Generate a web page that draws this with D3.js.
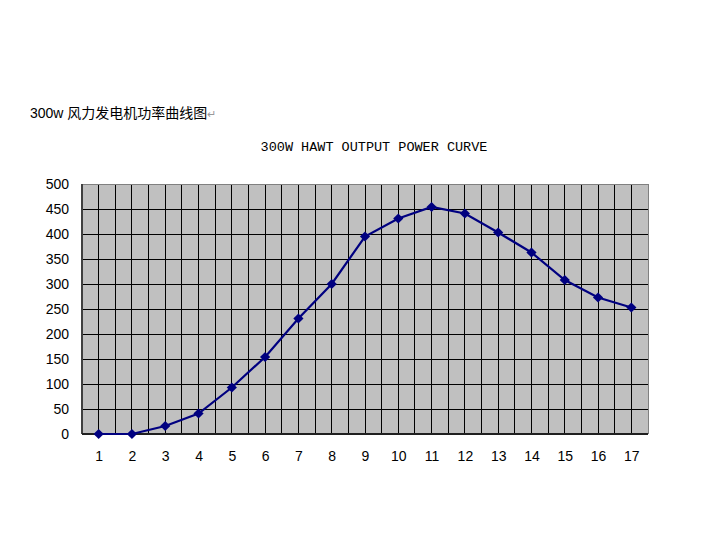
<!DOCTYPE html>
<html>
<head>
<meta charset="utf-8">
<script src="https://cdn.jsdelivr.net/npm/d3@7"></script>
<style>
  body { margin: 0; background: #fff; }
</style>
</head>
<body>
<div id="chart"></div>
<script>
var speeds = [1, 2, 3, 4, 5, 6, 7, 8, 9, 10, 11, 12, 13, 14, 15, 16, 17];
var power = [0, 0, 16, 41, 93, 154, 231, 300, 395, 431, 454, 441, 403, 363, 308, 273, 253];
var yTicks = [0, 50, 100, 150, 200, 250, 300, 350, 400, 450, 500];

var margin = {top: 184, right: 53, bottom: 119, left: 82},
    width = 701 - margin.left - margin.right,
    height = 553 - margin.top - margin.bottom;

var svg = d3.select("#chart")
  .append("svg")
    .attr("width", 701)
    .attr("height", 553);

// caption above the chart
var cap = svg.append("text")
    .attr("x", 30)
    .attr("y", 118)
    .style("font-family", "'Liberation Sans', 'Noto Sans CJK SC'")
    .style("font-size", "14px")
    .style("fill", "#000");
cap.append("tspan").text("300w ");
cap.append("tspan")
    .style("font-family", "'Noto Sans CJK SC'")
    .text("风力发电机功率曲线图");
cap.append("tspan")
    .style("fill", "#999")
    .style("font-size", "11px")
    .text("↵");

svg.append("text")
    .attr("x", 374)
    .attr("y", 151)
    .attr("text-anchor", "middle")
    .style("font-family", "'Liberation Mono', monospace")
    .style("font-size", "13.5px")
    .text("300W HAWT OUTPUT POWER CURVE");

var g = svg.append("g")
    .attr("transform", "translate(" + margin.left + "," + margin.top + ")");

var x = d3.scaleLinear()
  .domain([0.5, 17.5])
  .range([0, width]);

var y = d3.scaleLinear()
  .domain([0, 500])
  .range([height, 0]);

g.append("rect")
    .attr("width", width)
    .attr("height", height)
    .style("fill", "#c0c0c0");

// vertical grid: band edges and centres
var xGrid = d3.range(1, 34).map(function (i) { return 0.5 + i * 0.5; });
g.append("g")
  .selectAll("line")
  .data(xGrid)
  .enter()
  .append("line")
    .attr("x1", function (d) { return x(d); })
    .attr("x2", function (d) { return x(d); })
    .attr("y1", 0)
    .attr("y2", height)
    .style("stroke", "#000")
    .style("stroke-width", 1)
    .attr("shape-rendering", "crispEdges");

g.append("g")
  .selectAll("line")
  .data(yTicks.slice(1, -1))
  .enter()
  .append("line")
    .attr("x1", 0)
    .attr("x2", width)
    .attr("y1", function (d) { return y(d); })
    .attr("y2", function (d) { return y(d); })
    .style("stroke", "#000")
    .style("stroke-width", 1)
    .attr("shape-rendering", "crispEdges");

// frame
g.append("line").attr("x1", 0).attr("x2", width).attr("y1", 0).attr("y2", 0)
    .style("stroke", "#808080").attr("shape-rendering", "crispEdges");
g.append("line").attr("x1", width).attr("x2", width).attr("y1", 0).attr("y2", height)
    .style("stroke", "#808080").attr("shape-rendering", "crispEdges");
g.append("line").attr("x1", 0).attr("x2", 0).attr("y1", 0).attr("y2", height)
    .style("stroke", "#404040").style("stroke-width", 1.5).attr("shape-rendering", "crispEdges");
g.append("line").attr("x1", 0).attr("x2", width).attr("y1", height).attr("y2", height)
    .style("stroke", "#202020").style("stroke-width", 1.5).attr("shape-rendering", "crispEdges");

var yAxis = g.append("g")
    .call(d3.axisLeft(y).tickValues(yTicks).tickSize(0).tickPadding(13));
yAxis.select(".domain").remove();
yAxis.selectAll("text")
    .style("font-family", "'Liberation Sans', Arial")
    .style("font-size", "14px")
    .style("fill", "#000");

var xAxis = g.append("g")
    .attr("transform", "translate(0," + height + ")")
    .call(d3.axisBottom(x).tickValues(speeds).tickSize(0).tickPadding(17));
xAxis.select(".domain").remove();
xAxis.selectAll("text")
    .style("font-family", "'Liberation Sans', Arial")
    .style("font-size", "14px")
    .style("fill", "#000");

var line = d3.line()
    .x(function (d, i) { return x(speeds[i]); })
    .y(function (d) { return y(d); });

g.append("path")
    .datum(power)
    .attr("d", line)
    .style("fill", "none")
    .style("stroke", "#000080")
    .style("stroke-width", 2.2);

g.append("g")
  .selectAll("path")
  .data(power)
  .enter()
  .append("path")
    .attr("d", d3.symbol(d3.symbolSquare, 52))
    .attr("transform", function (d, i) {
      return "translate(" + x(speeds[i]) + "," + y(d) + ") rotate(45)";
    })
    .style("fill", "#000080");
</script>
</body>
</html>
